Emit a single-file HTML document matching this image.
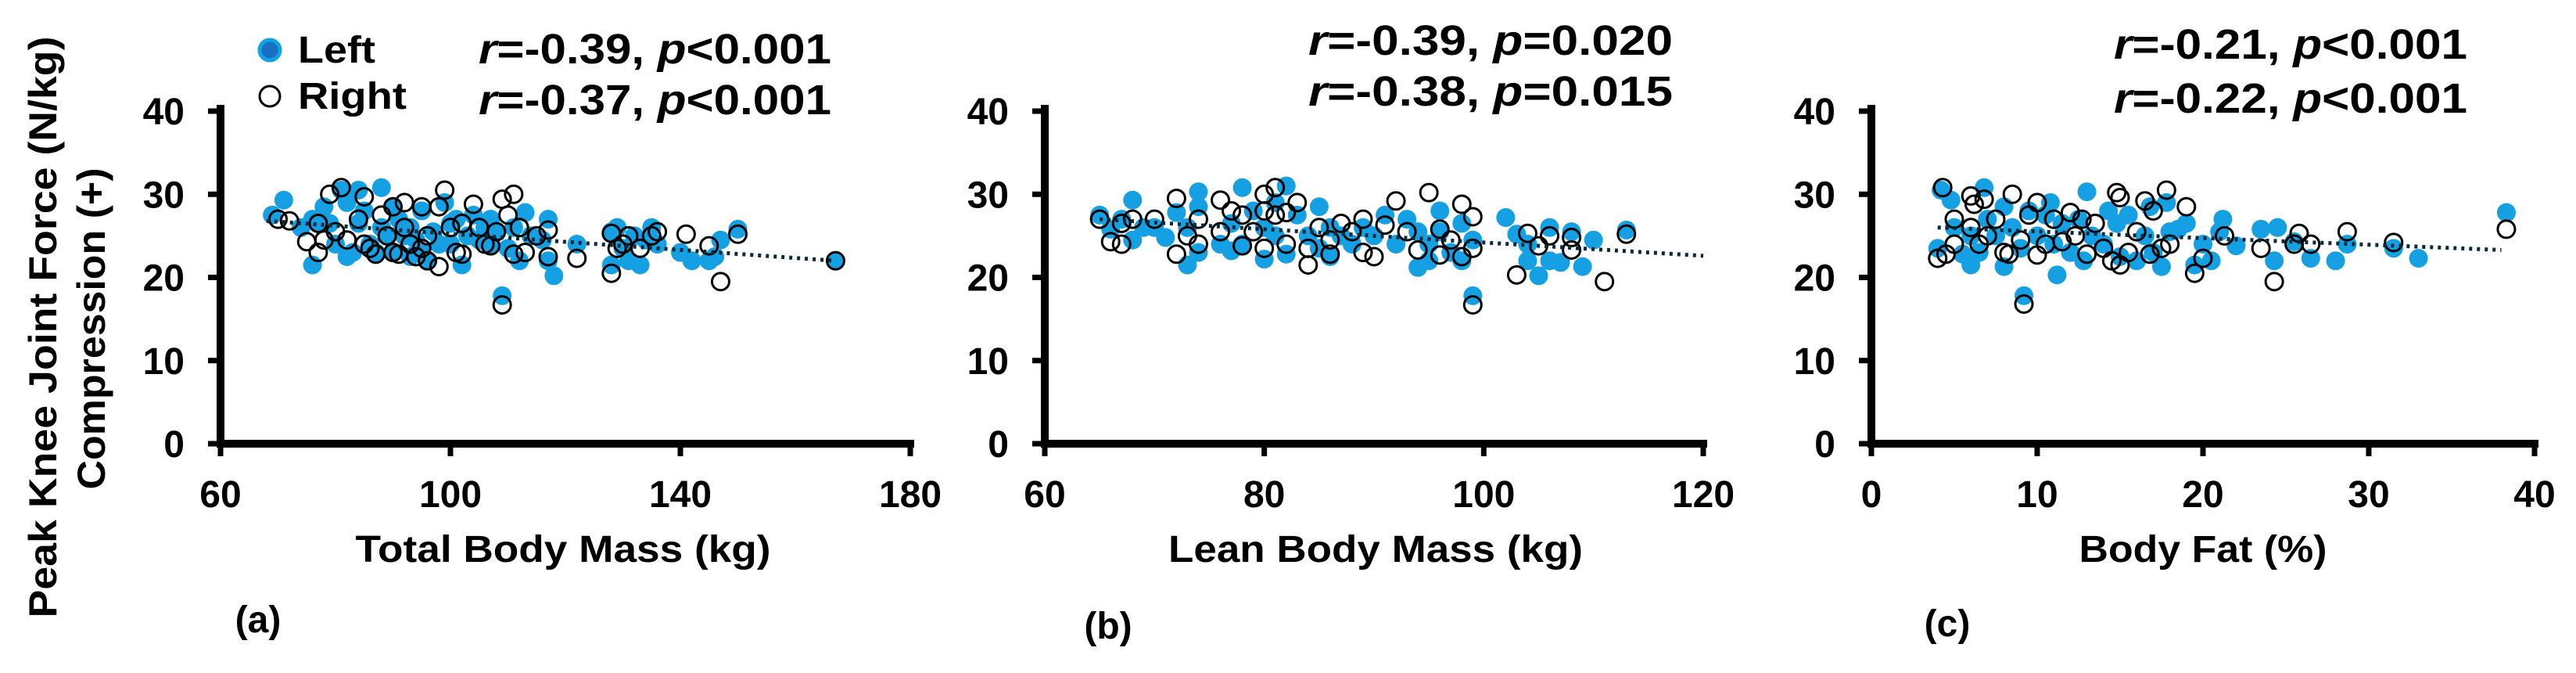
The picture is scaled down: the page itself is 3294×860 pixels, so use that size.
<!DOCTYPE html>
<html><head><meta charset="utf-8"><style>
html,body{margin:0;padding:0;background:#fff;}
svg{display:block;font-family:"Liberation Sans",sans-serif;font-weight:bold;}
</style></head><body>
<svg id="fig" width="3294" height="860" viewBox="0 0 3294 860" xmlns="http://www.w3.org/2000/svg">
<g>
<text x="72" y="418" font-size="50" text-anchor="middle" textLength="743" lengthAdjust="spacingAndGlyphs" transform="rotate(-90 72 418)">Peak Knee Joint Force (N/kg)</text>
<text x="134" y="420" font-size="50" text-anchor="middle" textLength="411" lengthAdjust="spacingAndGlyphs" transform="rotate(-90 134 420)">Compression (+)</text>
</g>
<g>
<circle cx="345" cy="64" r="13" fill="#1a70c0" stroke="#12a2e6" stroke-width="5"></circle>
<text x="381" y="80" font-size="48" textLength="99" lengthAdjust="spacingAndGlyphs">Left</text>
<circle cx="345" cy="123" r="13" fill="none" stroke="#000" stroke-width="3"></circle>
<text x="381" y="139" font-size="48" textLength="139" lengthAdjust="spacingAndGlyphs">Right</text>
</g>
</svg>
<script>
const yTicks=[0,10,20,30,40];
const aTicks=[60,100,140,180];
const bTicks=[60,80,100,120];
const cTicks=[0,10,20,30,40];
const aLeftX=[69,71,74,76,76,77,78,79,80,81,82,82,83,84,84,85,86,87,88,88,89,90,90,91,92,93,93,94,95,95,96,97,98,99,100,100,101,102,103,104,105,106,107,107,108,109,110,111,112,113,114,116,117,117,118,122,128,128,129,130,131,132,133,134,135,136,140,142,145,146,147,150,167];
const aLeftY=[27.5,29.3,26,21.5,27,26.5,28.5,26.5,24,30.5,29,22.5,23,26.5,30.5,28,24,23,30.8,26,25,28.5,23,27,25,26,22.5,24.5,28,23,22,25.5,24,29,24,26.5,27,21.5,25,27.5,24.5,26,27,24,25.5,17.8,23.5,26,22,27.8,25,24.5,27,22,20.2,24,25.5,21.5,26,23.5,22,25,21.5,24.5,26,24,23,22,22,22.5,24.5,25.8,22];
const aRightX=[70,72,75,77,77,78,79,80,81,82,84,85,85,86,87,88,89,90,90,91,92,92,93,94,95,95,96,96,98,98,99,100,101,102,102,104,105,106,107,108,109,109,110,111,111,112,113,115,117,117,122,128,128,129,130,131,133,135,136,141,145,147,150,167];
const aRightY=[27,26.8,24.3,23,26.5,24.5,30,25.5,30.8,24.5,27,29.7,24,23.5,22.8,27.5,25,28.5,23,22.8,26,29,24,22.5,28.5,23.5,25,22,28.5,21.3,30.5,26,23,22.8,26.5,28.8,26,24,23.8,25.5,16.7,29.4,27.5,30,22.8,26,23,25,25.7,22.5,22.3,25.3,20.5,23.5,24,25,23.5,25,25.5,25.2,23.8,19.5,25.2,22];
const aTrend=[[68,26.8],[167,22]];
const bLeftX=[65,66,67,68,68,69,70,71,72,73,73,74,74,74,76,77,77,78,78,79,80,80,81,81,82,82,83,84,85,85,86,86,87,88,89,90,91,92,93,94,94,95,95,96,96,97,98,98,99,99,102,103,104,104,105,106,106,107,108,109,110,113];
const bLeftY=[27.5,25.8,27,29.3,24.5,26,26,24.8,27.8,21.5,26,30.3,28.5,23,24,26.5,23.2,30.8,24,28,26,22.2,29,25,22.8,31,27.5,25,28.5,23.5,26,22.5,25,24,26,25,27.5,24,27,21.2,25.5,24,22,28,25.5,23,26.5,22,24.5,17.8,27.2,25.2,22,24,20.2,22,26,21.8,25.5,21.3,24.5,25.7];
const bRightX=[65,66,67,67,68,70,72,72,73,74,74,76,76,77,78,78,79,80,80,80,81,81,82,82,83,84,84,85,86,86,87,88,89,89,90,91,92,93,94,95,96,96,97,98,98,99,99,99,103,104,105,106,108,108,111,113];
const bRightY=[27,24.3,24,26.5,27,27,29.5,22.8,25,27,24,25.5,29.3,28,27.5,23.8,25.5,30,28,23.5,30.8,27.5,24,27.8,29,21.5,23.5,26,24.5,22.8,26.5,25.5,23,27,22.5,26.3,29.2,25.5,23.3,30.2,25.8,22.7,24.5,28.8,22.5,27.3,16.7,23.5,20.3,25.3,23.8,25,24.8,23.3,19.5,25.2];
const bTrend=[[65,27],[120,22.6]];
const cLeftX=[4,4.2,4.8,5,5.5,6,6,6.5,6.8,7,7.5,8,8,8.5,9,9.2,9.5,10,10.5,10.8,11,11.2,11.5,12,12.5,12.8,13,13.3,14,14.3,14.8,15,15.5,16,16.5,16.8,17,17.5,17.8,18,18.5,19,19.5,20,20.5,21,21.2,22,23.5,24.3,24.5,25.5,26.5,28,28.7,31.5,33,38.3];
const cLeftY=[23.5,30.5,29.3,26,22.8,21.5,25,23,30.8,27,25,21.3,28.5,26,23.5,17.8,28,25,27.5,29,24,20.3,26.5,23,27,22,30.3,25,24,28,26.5,22.5,27.5,22,25,28.5,23,21.3,29,25.5,25.8,26.5,21.5,24,22,25.5,27,23.8,25.8,22,26,24.3,22.3,22,24,23.5,22.3,27.8];
const cRightX=[4,4.3,4.5,5,5,6,6,6.2,6.5,6.8,7,7.5,8,8.3,8.5,9,9.2,9.5,10,10,10.5,11,11.5,12,12.3,12.7,13,13.5,14,14.5,14.8,15,15,15.5,16,16.5,16.8,17,17.5,17.8,18,19,19.5,20,21.3,23.5,24.3,25.5,25.8,26.5,28.7,31.5,38.3];
const cRightY=[22.3,30.8,22.8,27,24,29.8,26,28.8,24,29.4,25,27,23,22.8,30,24.5,16.8,27.5,22.7,29,24,27,24.3,27.8,25,27,22.8,26.5,23.5,22,30.2,29.6,21.5,23,25.5,29.2,22.8,28,23.5,30.5,24,28.5,20.5,22.3,25,23.5,19.5,24,25.3,24,25.5,24.2,25.8];
const cTrend=[[4,26],[38,23.3]];

const NS="http://www.w3.org/2000/svg";
const svg=document.getElementById('fig');
function mk(tag,attrs,parent){const e=document.createElementNS(NS,tag);for(const k in attrs)e.setAttribute(k,attrs[k]);(parent||svg).appendChild(e);return e;}
const Y0=567,Y40=142;
function yS(v){return Y0+(Y40-Y0)*v/40;}

function panel(id,x0,x1,xmin,xmax,xt,lx,ly,rx,ry,trend,title,titleX,titleW,letter,letterX,letterY,stats,statX,statW,statY){
  const g=mk('g',{});
  
  
  const xS=v=>x0+(x1-x0)*(v-xmin)/(xmax-xmin);
  for(let i=0;i<lx.length;i++){
    const c=mk('circle',{cx:xS(lx[i]),cy:yS(ly[i]),r:12,fill:'#14a0e2'},g);
    
    
  }
  for(let i=0;i<rx.length;i++){
    const c=mk('circle',{cx:xS(rx[i]),cy:yS(ry[i]),r:11,fill:'none',stroke:'#000','stroke-width':3},g);
    
    
  }
  const tl=mk('line',{x1:xS(trend[0][0]),y1:yS(trend[0][1]),x2:xS(trend[1][0]),y2:yS(trend[1][1]),stroke:'#0a2a3a','stroke-width':5,'stroke-dasharray':'4 6'},g);
  
  
  const ya=mk('line',{x1:x0,y1:Y40-8,x2:x0,y2:Y0+5,stroke:'#000','stroke-width':10},g);
  
  
  const xa=mk('line',{x1:x0-5,y1:Y0,x2:x1+5,y2:Y0,stroke:'#000','stroke-width':10},g);
  
  
  yTicks.forEach(v=>{
    mk('line',{x1:x0-16,y1:yS(v),x2:x0,y2:yS(v),stroke:'#000','stroke-width':7},g);
    const t=mk('text',{x:x0-46,y:yS(v)+17,'font-size':48,'text-anchor':'end'},g);
    t.textContent=v;
    
    
  });
  xt.forEach(v=>{
    mk('line',{x1:xS(v),y1:Y0,x2:xS(v),y2:Y0+16,stroke:'#000','stroke-width':7},g);
    const t=mk('text',{x:xS(v),y:648,'font-size':48,'text-anchor':'middle'},g);
    t.textContent=v;
    
    
  });
  const tt=mk('text',{x:titleX,y:718,'font-size':48,'text-anchor':'middle',textLength:titleW,lengthAdjust:'spacingAndGlyphs'},g);
  tt.textContent=title;
  
  
  const lt=mk('text',{x:letterX,y:letterY,'font-size':48,'text-anchor':'middle'},g);
  lt.textContent=letter;
  
  
  stats.forEach((s,i)=>{
    const t=mk('text',{x:statX,y:statY[i],'font-size':54,textLength:statW,lengthAdjust:'spacingAndGlyphs'},g);
    
    
    const a=mk('tspan',{'font-style':'italic'},t);a.textContent='r';
    const b=mk('tspan',{},t);b.textContent=s[0]+', ';
    const c=mk('tspan',{'font-style':'italic'},t);c.textContent='p';
    const d=mk('tspan',{},t);d.textContent=s[1];
  });
}
panel('a',282,1164,60,180,aTicks,aLeftX,aLeftY,aRightX,aRightY,aTrend,'Total Body Mass (kg)',720,531,'(a)',330,808,[['=-0.39','<0.001'],['=-0.37','<0.001']],612,451,[81,146]);
panel('b',1336,2178,60,120,bTicks,bLeftX,bLeftY,bRightX,bRightY,bTrend,'Lean Body Mass (kg)',1759,530,'(b)',1417,816,[['=-0.39','=0.020'],['=-0.38','=0.015']],1673,466,[70,135]);
panel('c',2393,3241,0,40,cTicks,cLeftX,cLeftY,cRightX,cRightY,cTrend,'Body Fat (%)',2817,317,'(c)',2490,813,[['=-0.21','<0.001'],['=-0.22','<0.001']],2703,452,[75,144]);
</script>
</body></html>
